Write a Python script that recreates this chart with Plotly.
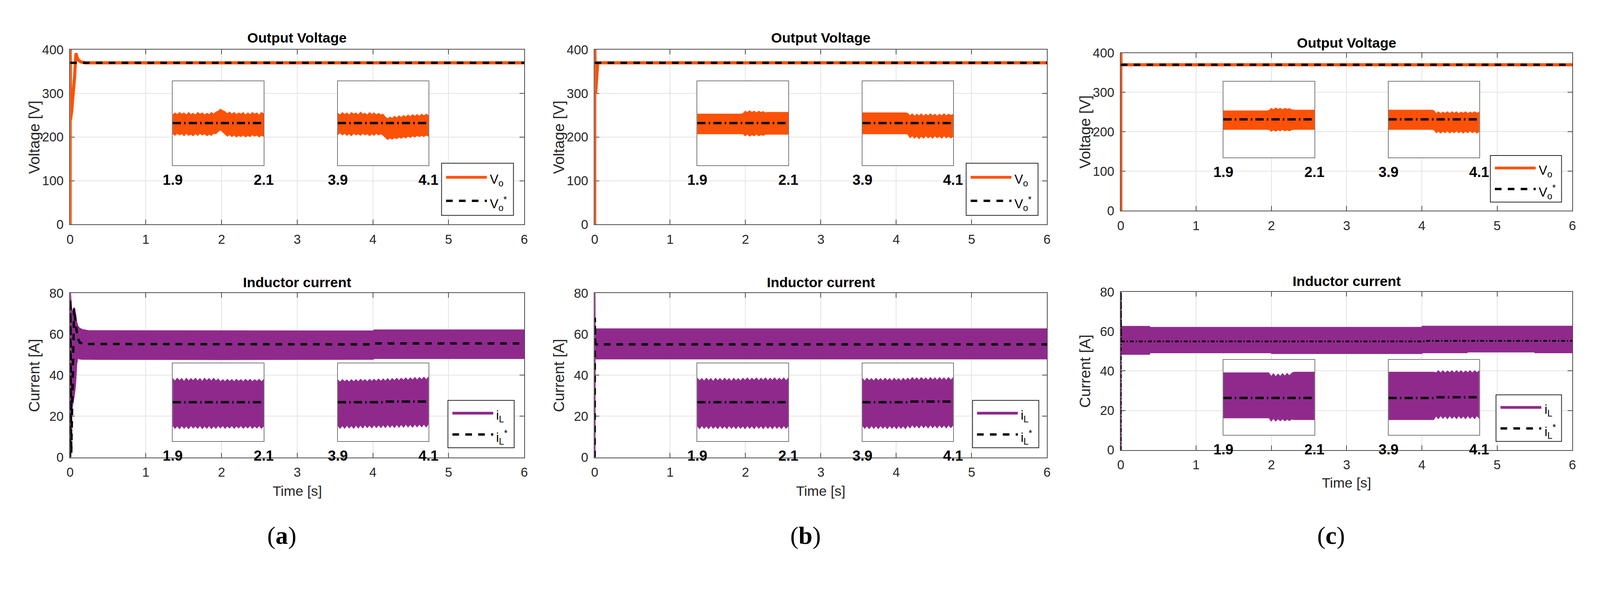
import plotly.graph_objects as go

# ------------------------------------------------------------------ data
T_VO_A = [0, 0.0008, 0.006, 0.02, 0.04, 0.06, 0.07, 0.078, 0.09, 0.11, 0.14, 0.2, 6]
VO_A = [0, 410, 240, 258, 292, 340, 372, 392, 383, 376, 372, 370, 370]
T_VO_B = [0, 0.0008, 0.012, 0.04, 6]
VO_B = [0, 410, 300, 370, 370]
T_VO_C = [0, 0.0008, 0.002, 6]
VO_C = [0, 410, 370, 370]
T_VREF = [0, 6]
VREF = [370, 370]

T_IL_A = [0, 0.001, 0.004, 0.015, 0.03, 0.053, 0.07, 0.085, 0.1, 0.12, 0.16, 0.25, 2.0, 4.0, 4.02, 6.0]
IL_A_HI = [0, 80, 80, 74, 70, 73, 70, 66, 64, 63, 62.2, 61.6, 61.5, 61.5, 62.0, 62.0]
IL_A_LO = [0, 0, 0, 20, 25, 30, 35, 45, 48.5, 48, 47.8, 47.8, 47.7, 47.8, 48.2, 48.2]
T_ILREF_A = [0, 0.002, 0.015, 0.053, 0.075, 0.1, 0.13, 0.2, 4.0, 4.02, 6.0]
ILREF_A = [0, 77, 2, 72.5, 65, 58, 55.8, 55.2, 55.0, 55.5, 55.5]

T_IL_B = [0, 0.001, 0.003, 0.005, 6.0]
IL_B_HI = [0, 80, 80, 62.5, 62.5]
IL_B_LO = [0, 0, 0, 48.0, 48.0]
T_ILREF_B = [0, 0.002, 0.006, 6.0]
ILREF_B = [0, 68, 55, 55]

T_IL_C = [0, 0.001, 0.003, 0.004, 0.38, 0.385, 2.0, 2.005, 4.0, 4.005, 4.6, 4.605, 5.5, 5.505, 6.0]
IL_C_HI = [0, 80, 80, 62.5, 62.5, 62.0, 62.0, 62.0, 62.0, 62.6, 62.6, 62.6, 62.6, 62.6, 62.6]
IL_C_LO = [0, 0, 0, 48.5, 48.5, 49.3, 49.3, 48.9, 48.9, 49.3, 49.3, 49.7, 49.7, 49.3, 49.3]
T_ILREF_C = [0, 0.001, 0.003, 0.01, 4.0, 4.1, 6.0]
ILREF_C = [0, 80, 57, 55, 55, 55.3, 55.3]

ZT_G1 = [1.900, 1.905, 1.910, 1.915, 1.920, 1.925, 1.930, 1.935, 1.940, 1.945, 1.950, 1.955, 1.960, 1.965,
         1.970, 1.975, 1.980, 1.985, 1.990, 1.995, 2.000, 2.005, 2.010, 2.015, 2.020, 2.025, 2.030, 2.035,
         2.040, 2.045, 2.050, 2.055, 2.060, 2.065, 2.070, 2.075, 2.080, 2.085, 2.090, 2.095, 2.100]
ZT_G2 = [3.900, 3.905, 3.910, 3.915, 3.920, 3.925, 3.930, 3.935, 3.940, 3.945, 3.950, 3.955, 3.960, 3.965,
         3.970, 3.975, 3.980, 3.985, 3.990, 3.995, 4.000, 4.005, 4.010, 4.015, 4.020, 4.025, 4.030, 4.035,
         4.040, 4.045, 4.050, 4.055, 4.060, 4.065, 4.070, 4.075, 4.080, 4.085, 4.090, 4.095, 4.100]
ZT_S1 = [1.900, 1.995, 2.000, 2.005, 2.010, 2.015, 2.020, 2.025, 2.030, 2.035, 2.040, 2.045, 2.050, 2.055, 2.100]
ZT_S2 = [3.900, 3.995, 4.000, 4.005, 4.010, 4.015, 4.020, 4.025, 4.030, 4.035, 4.040, 4.045, 4.050, 4.055,
         4.060, 4.065, 4.070, 4.075, 4.080, 4.085, 4.090, 4.095, 4.100]
ZOOM_X1 = [1.9, 2.1]
ZOOM_X2 = [3.9, 4.1]
ZOOM_LABELS1 = ['1.9', '2.1']
ZOOM_LABELS2 = ['3.9', '4.1']
ZV_RANGE = [360, 380]
ZI_RANGE = [44, 66]

ZV_A1_HI = [372.0, 372.5, 372.1, 372.6, 372.2, 372.5, 372.0, 372.6, 372.1, 372.4, 372.0, 372.6, 372.2, 372.5,
            372.0, 372.4, 372.1, 372.6, 372.2, 372.7, 372.9, 373.4, 373.0, 372.8, 372.3, 372.7, 372.2, 372.6,
            372.1, 372.5, 372.2, 372.6, 372.0, 372.5, 372.1, 372.6, 372.2, 372.5, 372.0, 372.6, 372.3]
ZV_A1_LO = [367.4, 367.0, 367.5, 367.1, 367.4, 366.9, 367.5, 367.0, 367.3, 366.9, 367.4, 367.0, 367.5, 367.1,
            367.4, 366.9, 367.3, 367.0, 367.5, 367.4, 367.9, 368.3, 367.8, 367.3, 366.8, 367.2, 366.7, 367.1,
            366.6, 367.0, 366.7, 367.1, 366.6, 367.0, 366.7, 367.2, 366.8, 367.1, 366.6, 367.0, 366.8]
ZV_A2_HI = [372.4, 372.0, 372.6, 372.1, 372.5, 372.0, 372.6, 372.2, 372.5, 372.0, 372.7, 372.2, 372.4, 372.0,
            372.6, 372.1, 372.5, 372.0, 372.4, 372.0, 372.2, 371.5, 371.1, 371.5, 371.2, 371.7, 371.3, 371.8,
            371.4, 371.9, 371.5, 372.0, 371.6, 372.1, 371.7, 372.1, 371.7, 372.2, 371.8, 372.2, 371.9]
ZV_A2_LO = [367.2, 367.6, 367.1, 367.5, 367.0, 367.4, 366.9, 367.5, 367.1, 367.4, 367.0, 367.5, 367.1, 367.4,
            366.9, 367.4, 367.0, 367.5, 367.1, 367.4, 367.0, 366.5, 366.0, 366.4, 366.1, 366.5, 366.2, 366.6,
            366.3, 366.7, 366.4, 366.8, 366.5, 366.9, 366.6, 367.0, 366.7, 367.0, 366.7, 367.1, 366.8]
ZV_B1_HI = [372.2, 372.2, 372.3, 372.9, 372.6, 373.0, 372.6, 372.9, 372.5, 372.9, 372.6, 372.8, 372.5, 372.6, 372.6]
ZV_B1_LO = [367.4, 367.4, 367.4, 366.9, 367.3, 366.8, 367.2, 366.9, 367.3, 366.9, 367.2, 367.0, 367.3, 367.3, 367.3]
ZV_B2_HI = [372.5, 372.5, 372.4, 371.8, 372.3, 371.7, 372.2, 371.8, 372.3, 371.7, 372.2, 371.8, 372.3, 371.8,
            372.2, 371.7, 372.2, 371.8, 372.3, 371.8, 372.2, 371.9, 372.1]
ZV_B2_LO = [367.4, 367.4, 367.3, 366.4, 366.9, 366.3, 366.8, 366.2, 366.8, 366.3, 366.9, 366.4, 366.8, 366.3,
            366.9, 366.4, 366.8, 366.3, 366.9, 366.4, 366.8, 366.4, 366.7]
ZV_C1_HI = [372.3, 372.3, 372.4, 373.0, 372.6, 373.1, 372.7, 373.0, 372.6, 373.0, 372.7, 372.9, 372.6, 372.5, 372.5]
ZV_C1_LO = [367.3, 367.3, 367.3, 366.8, 367.2, 366.8, 367.2, 366.9, 367.3, 366.9, 367.2, 366.9, 367.2, 367.3, 367.3]
ZV_C2_HI = [372.5, 372.5, 372.4, 371.6, 372.1, 371.6, 372.0, 371.7, 372.1, 371.6, 372.1, 371.7, 372.1, 371.6,
            372.0, 371.7, 372.1, 371.6, 372.0, 371.7, 372.1, 371.7, 372.0]
ZV_C2_LO = [367.3, 367.3, 367.2, 366.4, 366.8, 366.3, 366.8, 366.4, 366.9, 366.3, 366.8, 366.4, 366.9, 366.4,
            366.8, 366.3, 366.8, 366.4, 366.9, 366.4, 366.8, 366.3, 366.7]
ZR_V = [370, 370]

ZI_A1_HI = [61.8, 61.1, 61.9, 61.2, 61.8, 61.0, 61.9, 61.1, 61.8, 61.2, 61.9, 61.1, 61.8, 61.0, 61.9, 61.2, 61.8,
            61.1, 61.9, 61.1, 61.7, 60.9, 61.5, 60.9, 61.6, 61.0, 61.5, 60.9, 61.6, 61.0, 61.5, 60.9, 61.6, 61.0,
            61.6, 60.9, 61.5, 61.0, 61.6, 60.9, 61.5]
ZI_A1_LO = [48.3, 47.5, 48.2, 47.4, 48.3, 47.5, 48.2, 47.4, 48.3, 47.6, 48.2, 47.5, 48.3, 47.4, 48.2, 47.5, 48.3,
            47.4, 48.2, 47.5, 48.3, 47.6, 48.3, 47.5, 48.2, 47.6, 48.3, 47.5, 48.2, 47.6, 48.3, 47.5, 48.2, 47.6,
            48.3, 47.5, 48.2, 47.6, 48.3, 47.5, 48.2]
ZI_A2_HI = [61.4, 60.8, 61.5, 60.9, 61.4, 60.8, 61.5, 60.9, 61.5, 60.9, 61.6, 61.0, 61.5, 60.9, 61.6, 61.0, 61.6,
            61.0, 61.7, 61.0, 61.7, 61.1, 61.8, 61.1, 61.8, 61.2, 61.9, 61.2, 61.9, 61.3, 62.0, 61.3, 62.0, 61.4,
            62.1, 61.4, 62.1, 61.5, 62.2, 61.5, 62.2]
ZI_A2_LO = [48.3, 47.5, 48.3, 47.5, 48.4, 47.6, 48.3, 47.5, 48.4, 47.6, 48.4, 47.6, 48.5, 47.7, 48.4, 47.6, 48.5,
            47.7, 48.5, 47.7, 48.5, 47.7, 48.6, 47.8, 48.5, 47.7, 48.6, 47.8, 48.6, 47.8, 48.7, 47.9, 48.6, 47.8,
            48.7, 47.9, 48.7, 47.9, 48.7, 47.9, 48.7]
ZI_B1_HI = [61.9, 61.2, 61.8, 61.1, 61.9, 61.2, 61.8, 61.0, 61.9, 61.2, 61.8, 61.1, 61.9, 61.2, 61.8, 61.0, 61.9,
            61.2, 61.8, 61.1, 61.9, 61.3, 62.0, 61.2, 61.9, 61.3, 62.0, 61.2, 61.9, 61.3, 62.0, 61.2, 61.9, 61.3,
            62.0, 61.2, 61.9, 61.3, 62.0, 61.2, 61.9]
ZI_B1_LO = [48.2, 47.4, 48.3, 47.5, 48.2, 47.4, 48.3, 47.5, 48.2, 47.4, 48.3, 47.5, 48.2, 47.4, 48.3, 47.5, 48.2,
            47.4, 48.3, 47.5, 48.2, 47.4, 48.3, 47.5, 48.2, 47.4, 48.3, 47.5, 48.2, 47.4, 48.3, 47.5, 48.2, 47.4,
            48.3, 47.5, 48.2, 47.4, 48.3, 47.5, 48.2]
ZI_B2_HI = [61.8, 61.1, 61.9, 61.2, 61.8, 61.1, 61.9, 61.2, 61.8, 61.1, 61.9, 61.2, 61.8, 61.1, 61.9, 61.2, 61.8,
            61.1, 61.9, 61.2, 61.9, 61.3, 62.1, 61.4, 62.0, 61.3, 62.1, 61.4, 62.0, 61.3, 62.1, 61.4, 62.0, 61.3,
            62.1, 61.4, 62.0, 61.3, 62.1, 61.4, 62.0]
ZI_B2_LO = [48.3, 47.5, 48.2, 47.4, 48.3, 47.5, 48.2, 47.4, 48.3, 47.5, 48.2, 47.4, 48.3, 47.5, 48.2, 47.4, 48.3,
            47.5, 48.2, 47.4, 48.4, 47.6, 48.5, 47.7, 48.4, 47.6, 48.5, 47.7, 48.4, 47.6, 48.5, 47.7, 48.4, 47.6,
            48.5, 47.7, 48.4, 47.6, 48.5, 47.7, 48.4]
ZI_C1_HI = [62.2, 62.2, 62.2, 61.2, 62.0, 61.1, 61.9, 61.2, 62.0, 61.3, 62.1, 61.4, 62.1, 62.4, 62.4]
ZI_C1_LO = [48.9, 48.9, 48.9, 47.9, 48.7, 47.9, 48.6, 48.0, 48.6, 48.0, 48.5, 48.1, 48.5, 48.4, 48.4]
ZI_C2_HI = [62.4, 62.4, 62.4, 62.2, 62.9, 62.2, 62.9, 62.2, 62.8, 62.3, 62.9, 62.2, 62.9, 62.3, 62.9, 62.2, 62.8,
            62.3, 62.9, 62.2, 62.9, 62.3, 62.8]
ZI_C2_LO = [48.4, 48.4, 48.4, 49.4, 48.6, 49.5, 48.7, 49.4, 48.6, 49.5, 48.7, 49.4, 48.6, 49.5, 48.7, 49.4, 48.6,
            49.5, 48.7, 49.4, 48.6, 49.5, 48.7]
ZR_T2_STEP = [3.9, 4.0, 4.005, 4.1]
ZR_I_A1 = [55.0, 55.0]
ZR_I_A2 = [55.0, 55.0, 55.2, 55.2]
ZR_I_B1 = [55.0, 55.0]
ZR_I_B2 = [55.0, 55.0, 55.2, 55.2]
ZR_I_C1 = [54.8, 54.8]
ZR_I_C2 = [54.8, 54.8, 55.0, 55.0]

PANEL_TAGS = ['a', 'b', 'c']
V_TITLE = 'Output Voltage'
I_TITLE = 'Inductor current'
V_YLABEL = 'Voltage [V]'
I_YLABEL = 'Current [A]'
XLABEL = 'Time [s]'

# ------------------------------------------------------------------ style / geometry
# The page is photographed with ~3% magnification and an 8 px body margin, so the
# layout is designed in target-picture pixels and converted to CSS pixels.
K = 1.03
OFF = 8
W = int(round(4240 / K - OFF))
H = int(round(1551 / K - OFF))
FONT = 'Liberation Sans, Arial, Helvetica, sans-serif'
SERIF = 'Liberation Serif, Times New Roman, serif'
ORANGE = '#fb5207'
PURPLE = '#8f2a8c'
AXCOL = '#4d4d4d'
GRID = '#e4e4e4'
TXT = '#262626'
ZCOL = '#7a7a7a'


def fx(X):
    return (X / K - OFF) / W


def fy(Y):
    return 1 - (Y / K - OFF) / H


def fs(size):
    return round(size / K, 1)


GEOM = {
    'a': dict(x=(160, 1373), vy=(115, 587.5), iy=(773, 1217), vz=(200, 427), iz=(963, 1173),
              vt=83, it=744, xl=1308, tag=1428, vleg=(1152, 1344, 422, 563), ileg=(1169, 1346, 1063, 1191)),
    'b': dict(x=(1561, 2769), vy=(115, 587.5), iy=(773, 1217), vz=(200, 427), iz=(963, 1173),
              vt=83, it=744, xl=1308, tag=1428, vleg=(2553, 2745, 422, 563), ileg=(2570, 2747, 1063, 1191)),
    'c': dict(x=(2966, 4172), vy=(124, 550), iy=(770, 1197), vz=(201, 406), iz=(953, 1156),
              vt=97, it=741, xl=1286, tag=1428, vleg=(3953, 4143, 401, 527), ileg=(3968, 4143, 1048, 1174)),
}
ZOOM_OFF = [(274, 517), (715, 957)]

DATA = {
    'a': dict(tv=T_VO_A, v=VO_A, ti=T_IL_A, ihi=IL_A_HI, ilo=IL_A_LO, tir=T_ILREF_A, ir=ILREF_A,
              vz=[(ZT_G1, ZV_A1_HI, ZV_A1_LO, ZOOM_X1, ZR_V), (ZT_G2, ZV_A2_HI, ZV_A2_LO, ZOOM_X2, ZR_V)],
              iz=[(ZT_G1, ZI_A1_HI, ZI_A1_LO, ZOOM_X1, ZR_I_A1), (ZT_G2, ZI_A2_HI, ZI_A2_LO, ZR_T2_STEP, ZR_I_A2)],
              idash=('17px,15px', 6)),
    'b': dict(tv=T_VO_B, v=VO_B, ti=T_IL_B, ihi=IL_B_HI, ilo=IL_B_LO, tir=T_ILREF_B, ir=ILREF_B,
              vz=[(ZT_S1, ZV_B1_HI, ZV_B1_LO, ZOOM_X1, ZR_V), (ZT_S2, ZV_B2_HI, ZV_B2_LO, ZOOM_X2, ZR_V)],
              iz=[(ZT_G1, ZI_B1_HI, ZI_B1_LO, ZOOM_X1, ZR_I_B1), (ZT_G2, ZI_B2_HI, ZI_B2_LO, ZR_T2_STEP, ZR_I_B2)],
              idash=('17px,15px', 6)),
    'c': dict(tv=T_VO_C, v=VO_C, ti=T_IL_C, ihi=IL_C_HI, ilo=IL_C_LO, tir=T_ILREF_C, ir=ILREF_C,
              vz=[(ZT_S1, ZV_C1_HI, ZV_C1_LO, ZOOM_X1, ZR_V), (ZT_S2, ZV_C2_HI, ZV_C2_LO, ZOOM_X2, ZR_V)],
              iz=[(ZT_S1, ZI_C1_HI, ZI_C1_LO, ZOOM_X1, ZR_I_C1), (ZT_S2, ZI_C2_HI, ZI_C2_LO, ZR_T2_STEP, ZR_I_C2)],
              idash=('10px,5px,3px,5px', 4.5)),
}

for key, d in DATA.items():
    for group in ('vz', 'iz'):
        for (t, hi, lo, _, _) in d[group]:
            assert len(t) == len(hi) == len(lo), (key, group, len(t), len(hi), len(lo))

# ------------------------------------------------------------------ helpers
fig = go.Figure()
layout = dict(width=W, height=H, margin=dict(l=0, r=0, t=0, b=0), paper_bgcolor='white',
              plot_bgcolor='white', showlegend=False)
shapes, annotations = [], []


def axn(n, letter):
    return f'{letter}axis' if n == 1 else f'{letter}axis{n}'


def axr(n, letter):
    return letter if n == 1 else f'{letter}{n}'


def xdom(x0, x1):
    return [fx(x0), fx(x1)]


def ydom(y0, y1):
    return [fy(y1), fy(y0)]


def main_axes(n, xpx, ypx, yr, dt):
    common = dict(showline=True, linecolor=AXCOL, linewidth=2, mirror='ticks', ticks='inside', ticklen=12,
                  tickwidth=2, tickcolor=AXCOL, showgrid=True, gridcolor=GRID, gridwidth=1.5, zeroline=False,
                  tickfont=dict(family=FONT, size=fs(34), color=TXT), layer='below traces')
    layout[axn(n, 'x')] = dict(common, domain=xdom(*xpx), range=[0, 6], tickmode='linear', tick0=0, dtick=1,
                               anchor=axr(n, 'y'), ticklabelstandoff=8)
    layout[axn(n, 'y')] = dict(common, domain=ydom(*ypx), range=yr, tickmode='linear', tick0=0, dtick=dt,
                               anchor=axr(n, 'x'), ticklabelstandoff=8)


def zoom_axes(n, xpx, ypx, xr, yr, labels):
    box = dict(showline=True, mirror=True, linecolor=ZCOL, linewidth=1.5, showgrid=False, zeroline=False, ticks='')
    layout[axn(n, 'x')] = dict(box, domain=xdom(*xpx), range=xr, tickmode='array', tickvals=xr, ticktext=labels,
                               tickfont=dict(family=FONT, size=fs(38), color='black', weight='bold'),
                               anchor=axr(n, 'y'), ticklabelstandoff=4)
    layout[axn(n, 'y')] = dict(box, domain=ydom(*ypx), range=yr, showticklabels=False, anchor=axr(n, 'x'))


def band(n, t, hi, lo, color, lw):
    xs = list(t) + list(t)[::-1]
    ys = list(hi) + list(lo)[::-1]
    fig.add_trace(go.Scatter(x=xs, y=ys, mode='lines', fill='toself', fillcolor=color,
                             line=dict(color=color, width=lw), xaxis=axr(n, 'x'), yaxis=axr(n, 'y'),
                             hoverinfo='skip'))


def line(n, t, y, color, width, dash='solid'):
    fig.add_trace(go.Scatter(x=t, y=y, mode='lines', line=dict(color=color, width=width, dash=dash),
                             xaxis=axr(n, 'x'), yaxis=axr(n, 'y'), hoverinfo='skip'))


def text(x, y, s, size, bold=False, angle=0, family=FONT, color='black', xanchor='center'):
    annotations.append(dict(x=fx(x), y=fy(y), xref='paper', yref='paper', text=s, showarrow=False,
                            font=dict(family=family, size=fs(size), color=color,
                                      weight='bold' if bold else 'normal'),
                            textangle=angle, xanchor=xanchor, yanchor='middle'))


def legend_box(box, entries):
    x0, x1, y0, y1 = box
    shapes.append(dict(type='rect', xref='paper', yref='paper', x0=fx(x0), x1=fx(x1), y0=fy(y1), y1=fy(y0),
                       line=dict(color=TXT, width=2), fillcolor='white', layer='above'))
    h = y1 - y0
    for frac, (label, color, width, dash) in zip((0.27, 0.72), entries):
        yy = y0 + frac * h
        shapes.append(dict(type='line', xref='paper', yref='paper', x0=fx(x0 + 12), x1=fx(x0 + 121),
                           y0=fy(yy), y1=fy(yy), line=dict(color=color, width=width, dash=dash),
                           layer='above'))
        text(x0 + 127, yy + 8, label, 34, xanchor='left')


# ------------------------------------------------------------------ build
for p, key in enumerate(PANEL_TAGS):
    g = GEOM[key]
    d = DATA[key]
    nv, ni = 2 * p + 1, 2 * p + 2
    main_axes(nv, g['x'], g['vy'], [0, 400], 100)
    main_axes(ni, g['x'], g['iy'], [0, 80], 20)

    line(nv, d['tv'], d['v'], ORANGE, 8)
    line(nv, T_VREF, VREF, 'black', 6, '17px,16px')
    band(ni, d['ti'], d['ihi'], d['ilo'], PURPLE, 3)
    line(ni, d['tir'], d['ir'], 'black', d['idash'][1], d['idash'][0])

    x_left = g['x'][0]
    for k in range(2):
        off = ZOOM_OFF[k]
        xpx = (x_left + off[0], x_left + off[1])
        labels = ZOOM_LABELS1 if k == 0 else ZOOM_LABELS2
        nz = 7 + 4 * p + k
        t, hi, lo, tr, vr = d['vz'][k]
        zoom_axes(nz, xpx, g['vz'], ZOOM_X1 if k == 0 else ZOOM_X2, ZV_RANGE, labels)
        band(nz, t, hi, lo, ORANGE, 1)
        line(nz, tr, vr, 'black', 6, '21px,8px,4px,8px')
        nz = 9 + 4 * p + k
        t, hi, lo, tr, ir = d['iz'][k]
        zoom_axes(nz, xpx, g['iz'], ZOOM_X1 if k == 0 else ZOOM_X2, ZI_RANGE, labels)
        band(nz, t, hi, lo, PURPLE, 1)
        line(nz, tr, ir, 'black', 6, '21px,8px,4px,8px')

    xc = (g['x'][0] + g['x'][1]) / 2
    text(xc, g['vt'], V_TITLE, 37, bold=True)
    text(xc, g['it'], I_TITLE, 37, bold=True)
    text(g['x'][0] - 96, (g['vy'][0] + g['vy'][1]) / 2, V_YLABEL, 40, angle=-90, color=TXT)
    text(g['x'][0] - 96, (g['iy'][0] + g['iy'][1]) / 2, I_YLABEL, 40, angle=-90, color=TXT)
    text(xc, g['xl'], XLABEL, 37, color=TXT)
    text(xc - 41, g['tag'], f'(<b>{key}</b>)', 66, family=SERIF)

    legend_box(g['vleg'], [('V<sub>o</sub>', ORANGE, 7, 'solid'),
                           ('V<sub>o</sub><sup>*</sup>', 'black', 6, '17px,16px')])
    legend_box(g['ileg'], [('i<sub>L</sub>', PURPLE, 7, 'solid'),
                           ('i<sub>L</sub><sup>*</sup>', 'black', 6, '17px,16px')])

layout['shapes'] = shapes
layout['annotations'] = annotations
fig.update_layout(**layout)
fig.write_html('out.html')
